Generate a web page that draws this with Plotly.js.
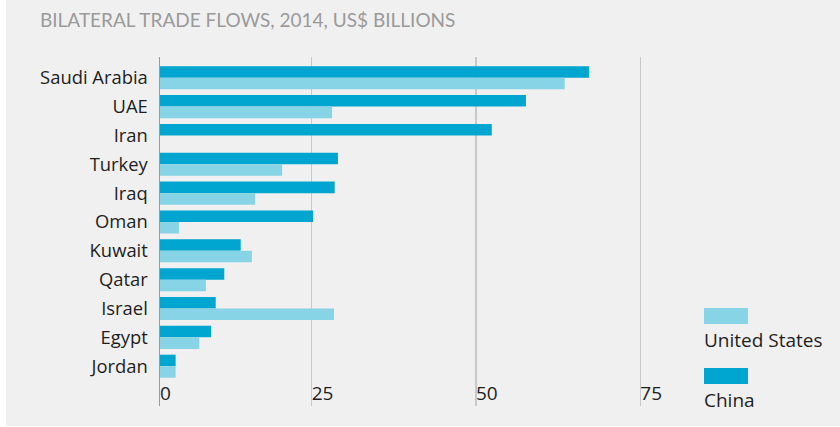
<!DOCTYPE html>
<html>
<head>
<meta charset="utf-8">
<script src="https://cdn.plot.ly/plotly-3.0.1.min.js"></script>
<style>
  html, body { margin: 0; padding: 0; background: #ffffff; }
  #chart { position: absolute; left: 6px; top: 0; width: 834px; height: 426px; }
</style>
</head>
<body>
<div id="chart"></div>
<script>
// ---- data (US$ billions, 2014) ----
const countries = ['Saudi Arabia', 'UAE', 'Iran', 'Turkey', 'Iraq', 'Oman', 'Kuwait', 'Qatar', 'Israel', 'Egypt', 'Jordan'];
const chinaValues = [67.2, 57.6, 52.4, 29.0, 28.5, 25.2, 14.2, 11.7, 10.4, 9.7, 4.3];
const usValues    = [63.5, 28.1, 0,    20.5, 16.4, 4.8,  15.9, 8.9,  28.4, 7.9, 4.3];
const seriesNames = ['United States', 'China'];
const tickValues = [0, 25, 50, 75];
const tickLabels = ['0', '25', '50', '75'];
const titleText = 'BILATERAL TRADE FLOWS, 2014, US$ BILLIONS';

const chinaColor = '#00a6cf';
const usColor = '#86d4e5';
const W = 834, H = 426;
const M = { l: 154, r: 160, t: 57, b: 20 };
const xRange = [1.92, 81.04];
const plotW = W - M.l - M.r, plotH = H - M.t - M.b;
const px2x = (cx) => (cx - M.l) / plotW;
const py2y = (cy) => (H - M.b - cy) / plotH;
const font = '"Open Sans", "Noto Sans", sans-serif';

const traces = [
  { type: 'bar', orientation: 'h', name: seriesNames[1], y: countries, x: chinaValues,
    marker: { color: chinaColor }, hoverinfo: 'x+y' },
  { type: 'bar', orientation: 'h', name: seriesNames[0], y: countries, x: usValues,
    marker: { color: usColor }, hoverinfo: 'x+y' }
];

// legend built as swatch + label underneath (as in the reference)
const legendItems = [
  { name: seriesNames[0], color: usColor, top: 308 },
  { name: seriesNames[1], color: chinaColor, top: 368 }
];
const shapes = legendItems.map(it => ({
  type: 'rect', xref: 'paper', yref: 'paper',
  x0: px2x(698), x1: px2x(742), y0: py2y(it.top + 16), y1: py2y(it.top),
  fillcolor: it.color, line: { width: 0 }
}));
const annotations = legendItems.map(it => ({
  xref: 'paper', yref: 'paper', x: px2x(697), y: py2y(it.top + 18),
  xanchor: 'left', yanchor: 'top', showarrow: false, borderpad: 0,
  text: it.name, font: { family: font, size: 19, color: '#1e1e1e' }
}));

const layout = {
  width: W, height: H,
  margin: M,
  paper_bgcolor: '#f0f0f0', plot_bgcolor: '#f0f0f0',
  showlegend: false,
  barmode: 'group', bargap: 0.2, bargroupgap: 0,
  title: { text: titleText, x: 34 / W, xanchor: 'left', y: 1 - 27 / H, yanchor: 'bottom',
           font: { family: 'Lato, "Open Sans", sans-serif', size: 19, color: '#9a9a9a' } },
  xaxis: {
    range: xRange, fixedrange: true,
    tickvals: tickValues.map(v => Math.max(v, xRange[0])), ticktext: tickLabels,
    ticklabelposition: 'inside right', ticks: '', ticklabelstandoff: -4,
    showgrid: true, gridcolor: '#c9c9c9', gridwidth: 1.5,
    zeroline: false, showline: false,
    tickfont: { family: font, size: 19, color: '#1e1e1e' }
  },
  yaxis: {
    type: 'category', range: [11.38, -0.72], fixedrange: true,
    showgrid: false, zeroline: false,
    showline: true, linecolor: '#9a9a9a', linewidth: 1.5,
    ticks: '', ticklabelstandoff: 7,
    tickfont: { family: font, size: 18.4, color: '#1e1e1e' }
  },
  shapes: shapes,
  annotations: annotations
};

Plotly.newPlot('chart', traces, layout, { displayModeBar: false, staticPlot: true });
</script>
</body>
</html>
